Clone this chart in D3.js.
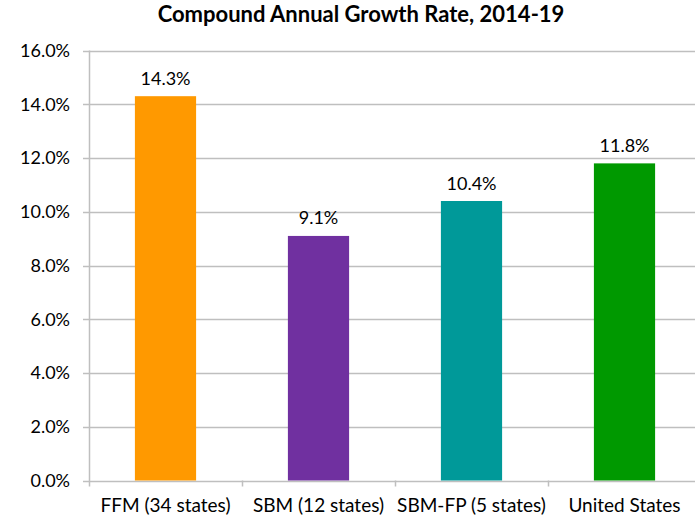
<!DOCTYPE html>
<html>
<head>
<meta charset="utf-8">
<script src="https://cdn.jsdelivr.net/npm/d3@7"></script>
<style>
  body { margin: 0; background: #fff; }
  svg text { font-family: Lato, "Open Sans", sans-serif; fill: #000; }
</style>
</head>
<body>
<svg id="chart" width="695" height="517"></svg>
<script>
// chart data
const categories = ["FFM (34 states)", "SBM (12 states)", "SBM-FP (5 states)", "United States"];
const growth = [14.3, 9.1, 10.4, 11.8];
const barColors = ["#FF9900", "#7030A0", "#009999", "#009900"];
const yTicks = [0, 2, 4, 6, 8, 10, 12, 14, 16];

const svg = d3.select("#chart");
const plotLeft = 89, plotTop = 50.5, plotBottom = 480.5, plotRight = 701;

const x = d3.scaleBand()
  .domain(categories)
  .range([plotLeft, plotRight])
  .paddingInner(0.6)
  .paddingOuter(0.3);

const y = d3.scaleLinear().domain([0, 16]).range([plotBottom, plotTop]);

// title
svg.append("text")
  .attr("x", 361)
  .attr("y", 22)
  .attr("text-anchor", "middle")
  .style("font-weight", "bold")
  .style("font-size", "22px")
  .text("Compound Annual Growth Rate, 2014-19");

// gridlines
svg.append("g")
  .selectAll("line")
  .data(yTicks)
  .enter()
  .append("line")
  .attr("x1", plotLeft - 6)
  .attr("x2", 695)
  .attr("y1", (d) => Math.round(y(d)) + 0.5)
  .attr("y2", (d) => Math.round(y(d)) + 0.5)
  .attr("stroke", "#BFBFBF")
  .attr("stroke-width", 1.5);

// y labels
svg.append("g")
  .selectAll("text")
  .data(yTicks)
  .enter()
  .append("text")
  .attr("x", 70)
  .attr("y", (d) => y(d))
  .attr("dy", "0.36em")
  .attr("text-anchor", "end")
  .style("font-size", "18px")
  .text((d) => d.toFixed(1) + "%");

// bars
svg.append("g")
  .selectAll("rect")
  .data(growth)
  .enter()
  .append("rect")
  .attr("x", (d, i) => x(categories[i]))
  .attr("y", (d) => y(d))
  .attr("width", x.bandwidth())
  .attr("height", (d) => y(0) - y(d))
  .attr("fill", (d, i) => barColors[i]);

// value labels
svg.append("g")
  .selectAll("text")
  .data(growth)
  .enter()
  .append("text")
  .attr("x", (d, i) => x(categories[i]) + x.bandwidth() / 2)
  .attr("y", (d) => y(d) - 11.5)
  .attr("text-anchor", "middle")
  .style("font-size", "18px")
  .text((d) => d.toFixed(1) + "%");

// y axis line
svg.append("line")
  .attr("x1", plotLeft + 0.5)
  .attr("x2", plotLeft + 0.5)
  .attr("y1", plotTop)
  .attr("y2", plotBottom + 6)
  .attr("stroke", "#BFBFBF")
  .attr("stroke-width", 1.5);

// x category ticks
const step = x.step();
svg.append("g")
  .selectAll("line")
  .data(categories)
  .enter()
  .append("line")
  .attr("x1", (d) => Math.round(x(d) - x.paddingOuter() * step + step) + 0.5)
  .attr("x2", (d) => Math.round(x(d) - x.paddingOuter() * step + step) + 0.5)
  .attr("y1", plotBottom)
  .attr("y2", plotBottom + 6)
  .attr("stroke", "#BFBFBF")
  .attr("stroke-width", 1.5);

// x labels
svg.append("g")
  .selectAll("text")
  .data(categories)
  .enter()
  .append("text")
  .attr("x", (d) => x(d) + x.bandwidth() / 2)
  .attr("y", 512)
  .attr("text-anchor", "middle")
  .style("font-size", "19px")
  .text((d) => d);
</script>
</body>
</html>
